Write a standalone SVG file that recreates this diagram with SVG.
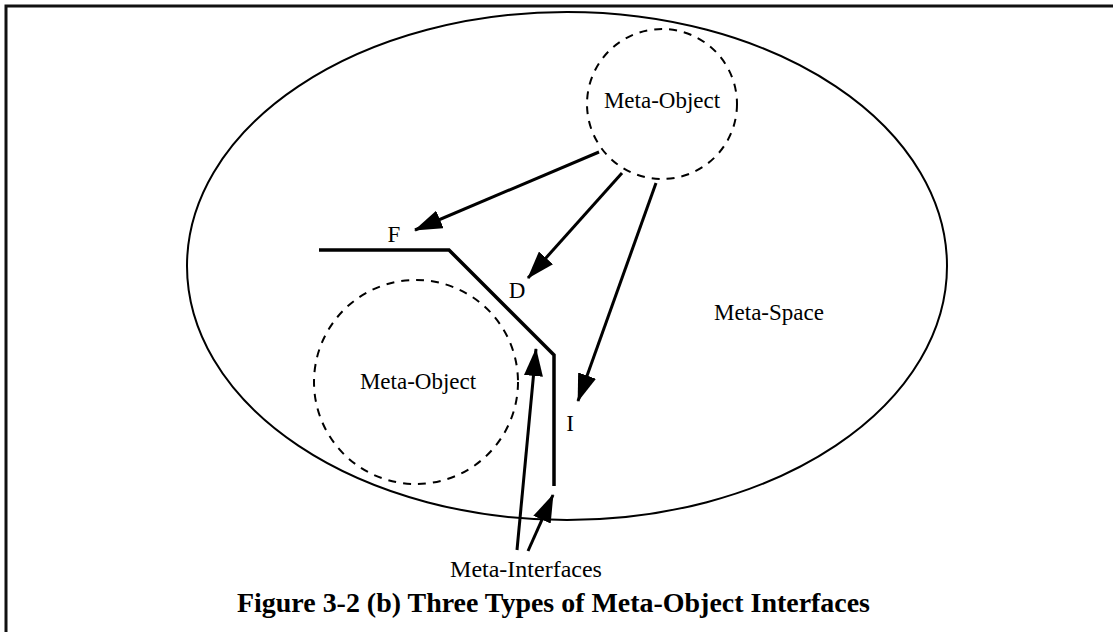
<svg xmlns="http://www.w3.org/2000/svg" width="1113" height="632" viewBox="0 0 1113 632">
<defs>
<style>
.t{font-family:"Liberation Serif","Times New Roman",serif;font-size:23px;fill:#000}
.b{font-family:"Liberation Serif","Times New Roman",serif;font-size:27px;font-weight:bold;fill:#000}
.dash{fill:none;stroke:#000;stroke-width:2;stroke-dasharray:8,7}
.c{fill:none;stroke:#000;stroke-width:3}
</style>
<marker id="ah" viewBox="0 0 28 19" refX="27" refY="9.5" markerWidth="28" markerHeight="19" markerUnits="userSpaceOnUse" orient="auto">
<path d="M0,0 L28,9.5 L0,19 z" fill="#000"/>
</marker>
</defs>
<rect width="1113" height="632" fill="#fff"/>
<path d="M6,632 V6 H1113" fill="none" stroke="#111" stroke-width="3"/>
<g id="meta-space">
<ellipse cx="567" cy="266" rx="380" ry="254" fill="none" stroke="#000" stroke-width="2"/>
<text class="t" x="769" y="320" text-anchor="middle">Meta-Space</text>
</g>
<g id="meta-object-top">
<circle class="dash" cx="662" cy="104" r="75"/>
<text class="t" x="662" y="108" text-anchor="middle">Meta-Object</text>
</g>
<g id="meta-object-bottom">
<circle class="dash" cx="416" cy="382" r="102"/>
<text class="t" x="418" y="389" text-anchor="middle">Meta-Object</text>
</g>
<g id="interfaces">
<polyline points="319,250 449,250 554,355 554,486" fill="none" stroke="#000" stroke-width="3.5"/>
<text class="t" x="394" y="242" text-anchor="middle">F</text>
<text class="t" x="517" y="298" text-anchor="middle">D</text>
<text class="t" x="570" y="431" text-anchor="middle">I</text>
<text class="t" x="526" y="577" text-anchor="middle" style="font-size:24px">Meta-Interfaces</text>
</g>
<g id="connectors">
<line class="c" x1="599" y1="152" x2="415" y2="230" marker-end="url(#ah)"/>
<line class="c" x1="622" y1="173" x2="528" y2="278" marker-end="url(#ah)"/>
<line class="c" x1="656" y1="183" x2="578" y2="401" marker-end="url(#ah)"/>
<line class="c" x1="517" y1="550" x2="536" y2="349" marker-end="url(#ah)"/>
<line class="c" x1="528" y1="551" x2="553" y2="495" marker-end="url(#ah)"/>
</g>
<g id="caption">
<text class="b" x="237" y="612" textLength="633" lengthAdjust="spacingAndGlyphs">Figure 3-2 (b) Three Types of Meta-Object Interfaces</text>
</g>
</svg>
